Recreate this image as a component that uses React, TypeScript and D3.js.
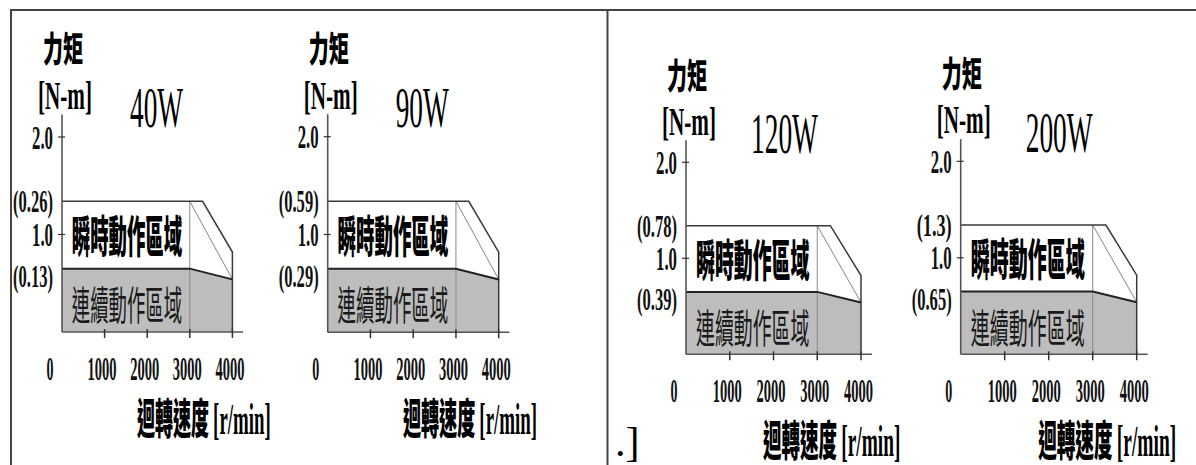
import React from "react";
import * as d3 from "d3";

// ---- data ----
const motorLabels = ["40W", "90W", "120W", "200W"];
const peakLabels = ["(0.26)", "(0.59)", "(0.78)", "(1.3)"];
const ratedLabels = ["(0.13)", "(0.29)", "(0.39)", "(0.65)"];
const xTicks = [0, 1000, 2000, 3000, 4000];
const yTicks = [1.0, 2.0];
const yTickLabels = ["1.0", "2.0"];

// schematic curve (same drawing reused in all four charts)
const peakSpeed = [0, 3300, 4000];
const peakTorque = [1.34, 1.34, 0.82];
const ratedSpeed = [0, 3000, 4000];
const ratedTorque = [0.65, 0.65, 0.54];

// ---- layout ----
const panels = [
  { ox: 62, oy: 332, w: 170.4, h: 195 },
  { ox: 327.7, oy: 332.3, w: 171, h: 195.6 },
  { ox: 686, oy: 354.3, w: 175, h: 192 },
  { ox: 960.7, oy: 354.3, w: 176, h: 193 },
];

const CJK = "'Noto Sans CJK TC', 'Noto Sans CJK SC', sans-serif";
const SERIF = "'Liberation Serif', 'DejaVu Serif', serif";

function Panel({ i }: { i: number }) {
  const p = panels[i];
  const x = d3.scaleLinear().domain([0, 4000]).range([p.ox, p.ox + p.w]);
  const y = d3.scaleLinear().domain([0, 2]).range([p.oy, p.oy - p.h]);

  const ratedPts = ratedSpeed.map((s, k) => [s, ratedTorque[k]] as [number, number]);
  const area = d3
    .area<[number, number]>()
    .x((d) => x(d[0]))
    .y0(y(0))
    .y1((d) => y(d[1]));
  const line = d3
    .line<[number, number]>()
    .x((d) => x(d[0]))
    .y((d) => y(d[1]));

  const envelope: [number, number][] = [
    ...peakSpeed.map((s, k) => [s, peakTorque[k]] as [number, number]),
    [4000, 0],
  ];
  const peak = peakTorque[0];

  const unit = x(1000) - x(0);
  return (
    <g>
      {/* continuous region */}
      <path d={area(ratedPts) || ""} fill="#bdbdbd" stroke="none" />
      {/* 3000 vertical */}
      <line x1={x(3000)} x2={x(3000)} y1={y(0)} y2={y(peak)} stroke="#8a8a8a" strokeWidth={1} />
      {/* thin diagonal */}
      <line
        x1={x(3000)}
        y1={y(peak)}
        x2={x(4000)}
        y2={y(ratedTorque[2])}
        stroke="#777"
        strokeWidth={0.9}
      />
      {/* envelope */}
      <path d={line(envelope) || ""} fill="none" stroke="#3a3a3a" strokeWidth={1.5} />
      {/* rated line */}
      <path d={line(ratedPts) || ""} fill="none" stroke="#222" strokeWidth={2} />
      {/* axes */}
      <line x1={x(0)} x2={x(0)} y1={y(0)} y2={y(2.23)} stroke="#555" strokeWidth={1.6} />
      <line x1={x(0)} x2={x(4250)} y1={y(0)} y2={y(0)} stroke="#555" strokeWidth={1.6} />
      {xTicks
        .filter((t) => t > 0)
        .map((t) => (
          <line key={t} x1={x(t)} x2={x(t)} y1={y(0) - 3} y2={y(0) + 6} stroke="#333" strokeWidth={1.5} />
        ))}
      {yTicks.map((t) => (
        <line key={t} x1={x(0) - 4} x2={x(0) + 3} y1={y(t)} y2={y(t)} stroke="#333" strokeWidth={1.2} />
      ))}
      {/* y tick labels */}
      {yTicks.map((t, k) => (
        <text
          key={t}
          x={x(0) - 9}
          y={y(t) + 11.5}
          textAnchor="end"
          fontFamily={SERIF}
          fontWeight="bold"
          fontSize={34}
          textLength={21}
          lengthAdjust="spacingAndGlyphs"
          fill="#111"
        >
          {yTickLabels[k]}
        </text>
      ))}
      <text
        x={x(0) - 9}
        y={y(peak) + 11}
        textAnchor="end"
        fontFamily={SERIF}
        fontWeight="bold"
        fontSize={32}
        textLength={peakLabels[i].length > 5 ? 40 : 35}
        lengthAdjust="spacingAndGlyphs"
        fill="#111"
      >
        {peakLabels[i]}
      </text>
      <text
        x={x(0) - 9}
        y={y(ratedTorque[0]) + 18}
        textAnchor="end"
        fontFamily={SERIF}
        fontWeight="bold"
        fontSize={32}
        textLength={40}
        lengthAdjust="spacingAndGlyphs"
        fill="#111"
      >
        {ratedLabels[i]}
      </text>
      {/* x tick labels */}
      {xTicks.map((t) => (
        <text
          key={t}
          x={t === 0 ? x(0) - 12 : x(t) - 2.5}
          y={y(0) + 48}
          textAnchor="middle"
          fontFamily={SERIF}
          fontWeight="bold"
          fontSize={34}
          textLength={t === 0 ? 7 : 29}
          lengthAdjust="spacingAndGlyphs"
          fill="#111"
        >
          {t}
        </text>
      ))}
      {/* region labels */}
      <text
        x={x(230)}
        y={y(0.77) - 3.5}
        fontFamily={CJK}
        fontWeight={900}
        fontSize={44}
        textLength={x(2820) - x(230)}
        lengthAdjust="spacingAndGlyphs"
        fill="#000"
      >
        瞬時動作區域
      </text>
      <text
        x={x(230)}
        y={y(0.09) - 3}
        fontFamily={CJK}
        fontWeight={400}
        fontSize={40}
        textLength={x(2820) - x(230)}
        lengthAdjust="spacingAndGlyphs"
        fill="#1a1a1a"
      >
        連續動作區域
      </text>
      {/* axis titles */}
      <text
        x={x(0) - 19}
        y={y(2.74) - 2.5}
        fontFamily={CJK}
        fontWeight={900}
        fontSize={35}
        textLength={40}
        lengthAdjust="spacingAndGlyphs"
        fill="#000"
      >
        力矩
      </text>
      <text
        x={x(0) - 24}
        y={y(2.2) - 8.6}
        fontFamily={SERIF}
        fontWeight="bold"
        fontSize={41}
        textLength={54}
        lengthAdjust="spacingAndGlyphs"
        fill="#000"
      >
        [N-m]
      </text>
      <text
        x={x(0) + (i < 2 ? 68 : 65)}
        y={y(2.1)}
        fontFamily={SERIF}
        fontSize={56}
        textLength={motorLabels[i].length > 3 ? 67 : 53}
        lengthAdjust="spacingAndGlyphs"
        fill="#000"
      >
        {motorLabels[i]}
      </text>
      <text
        x={x(0) + 1.76 * unit}
        y={y(0) + 102}
        fontFamily={CJK}
        fontWeight={900}
        fontSize={42}
        textLength={4.9 * unit - 1.76 * unit}
        lengthAdjust="spacingAndGlyphs"
        fill="#000"
      >
        <tspan>迴轉速度 </tspan>
        <tspan fontFamily={SERIF} fontWeight="bold" fontSize={44}>[r/min]</tspan>
      </text>
    </g>
  );
}

export default function App() {
  return (
    <svg
      width={1196}
      height={465}
      style={{ position: "absolute", left: 0, top: 0, background: "#fff" }}
    >
      <rect x={0} y={0} width={1196} height={465} fill="#fff" />
      {/* frame */}
      <line x1={10} x2={1196} y1={10} y2={10} stroke="#444" strokeWidth={2} />
      <line x1={11} x2={11} y1={10} y2={465} stroke="#444" strokeWidth={2} />
      <line x1={607.5} x2={607.5} y1={10} y2={465} stroke="#444" strokeWidth={2} />
      {panels.map((_, i) => (
        <Panel key={i} i={i} />
      ))}
      <text x={615} y={456} fontFamily={SERIF} fontSize={42} fill="#000">
        .]
      </text>
    </svg>
  );
}
